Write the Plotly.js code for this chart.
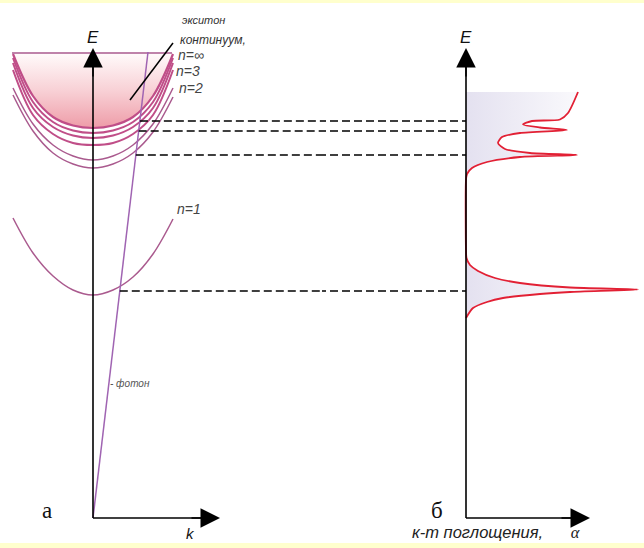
<!DOCTYPE html>
<html><head><meta charset="utf-8">
<script src="https://cdn.plot.ly/plotly-3.0.1.min.js"></script>
<style>html,body{margin:0;padding:0;background:#fff;}#chart{width:644px;height:548px;}</style>
</head><body><div id="chart"></div>
<script>
// ---- data (k, E in arbitrary units; α in arbitrary units) ----
const kGrid = [-8, -6, -4, -2, 0, 2, 4, 6, 8];
const continuumTopK = [-8.1, 7.9];
const continuumTopE = [46.5, 46.5];
const bowlE   = [46.4, 42.2, 40.1, 39.25, 39.0, 39.25, 40.1, 42.2, 46.4];   // continuum edge (n=∞)
const band1E  = [46.0, 41.6, 39.6, 38.75, 38.5, 38.75, 39.6, 41.6, 46.0];
const band2E  = [45.5, 41.0, 39.1, 38.25, 38.0, 38.25, 39.1, 41.0, 45.5];
const band3E  = [44.8, 40.3, 38.4, 37.5, 37.3, 37.5, 38.4, 40.3, 44.8];
const outer1E = [43.0, 39.4, 37.3, 36.2, 35.8, 36.2, 37.3, 39.4, 43.0];
const outer2E = [42.3, 38.7, 36.5, 35.4, 35.0, 35.4, 36.5, 38.6, 42.1];
const n1E     = [30.0, 26.5, 24.2, 22.8, 22.3, 22.8, 24.1, 26.4, 29.9];

const photonK = [0, 5.5];
const photonE = [0, 46.6];

const levelNames = ['n=1', 'n=2', 'n=3', 'n=∞'];
const levelE = [22.7, 36.3, 38.7, 39.7];

// absorption spectrum (α vs E)
const specAlpha = [0.0, 0.7, 2.1, 3.7, 7.4, 10.4, 17.2, 10.4, 5.4, 2.9, 1.2, 0.4, 0.05, 0.0,
                   0.0, 0.1, 0.6, 2.1, 5.4, 11.1, 6.4, 3.9, 3.2, 3.6, 5.4, 10.1,
                   7.4, 5.7, 6.6, 9.4, 10.2, 11.2];
const specE = [20.0, 21.0, 21.6, 22.0, 22.4, 22.6, 22.85, 23.05, 23.5, 24.0, 24.7, 25.3, 26.0, 26.8,
               33.8, 34.4, 35.0, 35.6, 36.1, 36.3, 36.5, 36.9, 37.5, 38.1, 38.5, 38.8,
               39.05, 39.35, 39.7, 39.85, 40.5, 42.6];

const axisTopE = 47.0;
const kAxisEnd = 12.7;
const alphaAxisEnd = 12.4;

// ---- styles ----
const mauve = 'rgb(170,90,142)';
const band = 'rgb(192,78,136)';
const traces = [];

// continuum fill
traces.push({x: kGrid, y: bowlE, mode: 'lines', fill: 'toself',
  line: {shape: 'spline', color: band, width: 2.2},
  fillgradient: {type: 'vertical', colorscale: [[0, 'rgb(238,156,168)'], [0.5, 'rgb(248,208,213)'], [1, 'rgb(255,250,250)']]},
  hoverinfo: 'skip'});
traces.push({x: continuumTopK, y: continuumTopE, mode: 'lines', line: {color: mauve, width: 1.5}, hoverinfo: 'skip'});
[band1E, band2E, band3E].forEach(e => traces.push({x: kGrid, y: e, mode: 'lines',
  line: {shape: 'spline', color: band, width: 2}, hoverinfo: 'skip'}));
[outer1E, outer2E, n1E].forEach(e => traces.push({x: kGrid, y: e, mode: 'lines',
  line: {shape: 'spline', color: mauve, width: 1.5}, hoverinfo: 'skip'}));

// photon line
traces.push({x: photonK, y: photonE, mode: 'lines', line: {color: 'rgb(160,100,178)', width: 1.5}, hoverinfo: 'skip'});

// dashed level lines (left part from photon line, right part to α axis)
levelE.forEach(e => {
  const kc = photonK[1] * e / photonE[1];
  traces.push({x: [kc, 40], y: [e, e], mode: 'lines', line: {color: '#000', width: 1.3, dash: '8px,4px'}, hoverinfo: 'skip'});
  traces.push({x: [-40, 0], y: [e, e], xaxis: 'x2', mode: 'lines', line: {color: '#000', width: 1.3, dash: '8px,4px'}, hoverinfo: 'skip'});
});

// spectrum
traces.push({x: specAlpha, y: specE, xaxis: 'x2', mode: 'lines', fill: 'tozerox',
  line: {shape: 'spline', smoothing: 0.7, color: 'rgb(226,32,52)', width: 1.8},
  fillgradient: {type: 'horizontal', start: 0, stop: 14, colorscale: [[0, 'rgb(228,225,240)'], [1, 'rgb(255,255,255)']]},
  hoverinfo: 'skip'});

// axes lines
traces.push({x: [0, 0], y: [0, axisTopE - 1], mode: 'lines', line: {color: '#000', width: 1.6}, hoverinfo: 'skip'});
traces.push({x: [0, kAxisEnd - 1], y: [0, 0], mode: 'lines', line: {color: '#000', width: 1.6}, hoverinfo: 'skip'});
traces.push({x: [0, 0], y: [0, axisTopE - 1], xaxis: 'x2', mode: 'lines', line: {color: '#000', width: 1.6}, hoverinfo: 'skip'});
traces.push({x: [0, alphaAxisEnd - 1], y: [0, 0], xaxis: 'x2', mode: 'lines', line: {color: '#000', width: 1.6}, hoverinfo: 'skip'});

// leader line for continuum label
const leaderK = [8.0, 3.7];
const leaderE = [47.5, 41.8];
traces.push({x: leaderK, y: leaderE, mode: 'lines', line: {color: '#000', width: 1.5}, hoverinfo: 'skip'});

const sans = 'Liberation Sans, Arial, sans-serif';
const serif = 'Liberation Serif, Times New Roman, serif';
function arrow(xref, x, y, ax, ay) {
  return {xref: xref, yref: 'y', axref: xref, ayref: 'y', x: x, y: y, ax: ax, ay: ay, text: '',
    showarrow: true, arrowhead: 2, arrowsize: 2.6, arrowwidth: 1.5, arrowcolor: '#000'};
}
function label(xref, x, y, text, size, color, family, xanchor) {
  return {xref: xref, yref: 'y', x: x, y: y, text: text, showarrow: false,
    xanchor: xanchor || 'center', yanchor: 'middle', font: {size: size, color: color || '#333', family: family || sans}};
}
const annotations = [
  arrow('x', 0, axisTopE, 0, axisTopE - 3),
  arrow('x', kAxisEnd, 0, kAxisEnd - 3, 0),
  arrow('x2', 0, axisTopE, 0, axisTopE - 3),
  arrow('x2', alphaAxisEnd, 0, alphaAxisEnd - 3, 0),
  label('x', 0, 48.1, '<i>E</i>', 17, '#111'),
  label('x2', 0, 48.1, '<i>E</i>', 17, '#111'),
  label('x', 9.7, -1.5, '<i>k</i>', 15, '#111'),
  label('x', -4.6, 0.8, 'а', 23, '#111', serif),
  label('x2', -2.9, 0.8, 'б', 23, '#111', serif),
  label('x2', -5.6, -1.4, '<i>к-т поглощения,</i>      <span style="font-family:Liberation Serif"><i>α</i></span>', 16.5, '#222', sans, 'left'),
  label('x', 8.7, 49.8, '<i>экситон</i>', 11, '#333', sans, 'left'),
  label('x', 8.5, 47.8, '<i>континуум,</i>', 12, '#333', sans, 'left'),
  label('x', 8.3, 46.3, '<i>n=∞</i>', 14, '#444', sans, 'left'),
  label('x', 8.1, 44.7, '<i>n=3</i>', 14, '#444', sans, 'left'),
  label('x', 8.4, 43.0, '<i>n=2</i>', 14, '#444', sans, 'left'),
  label('x', 8.2, 30.9, '<i>n=1</i>', 14, '#444', sans, 'left'),
  label('x', 1.5, 13.5, '<i>- фотон</i>', 10, '#555', sans, 'left')
];

const layout = {
  width: 644, height: 548, margin: {l: 0, r: 0, t: 0, b: 0},
  paper_bgcolor: '#fff', plot_bgcolor: 'rgba(0,0,0,0)', showlegend: false,
  xaxis: {domain: [0, 0.5], range: [-9.3, 22.9], visible: false, fixedrange: true},
  xaxis2: {domain: [0.5, 1], range: [-14.4, 17.8], visible: false, anchor: 'y', fixedrange: true},
  yaxis: {domain: [0, 1], range: [-3, 51.8], visible: false, fixedrange: true},
  annotations: annotations,
  shapes: [
    {type: 'rect', xref: 'paper', yref: 'paper', x0: 0, x1: 1, y0: 1 - 3 / 548, y1: 1, fillcolor: 'rgb(255,255,205)', line: {width: 0}, layer: 'below'},
    {type: 'rect', xref: 'paper', yref: 'paper', x0: 0, x1: 1, y0: 0, y1: 5 / 548, fillcolor: 'rgb(255,255,205)', line: {width: 0}, layer: 'below'}
  ]
};
Plotly.newPlot('chart', traces, layout, {staticPlot: true, displayModeBar: false});
</script></body></html>
